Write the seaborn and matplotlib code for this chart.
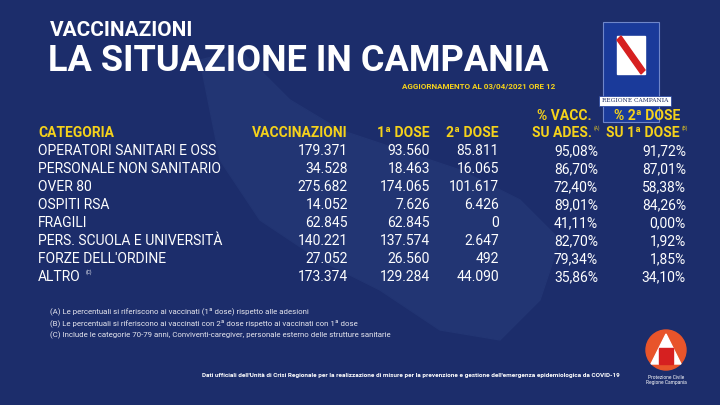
import numpy as np
import seaborn as sns
import matplotlib.pyplot as plt
from matplotlib.patches import Rectangle, Polygon, Circle

categories = ['OPERATORI SANITARI E OSS', 'PERSONALE NON SANITARIO', 'OVER 80', 'OSPITI RSA',
              'FRAGILI', 'PERS. SCUOLA E UNIVERSITÀ', "FORZE DELL'ORDINE", 'ALTRO']
vaccinazioni = ['179.371', '34.528', '275.682', '14.052', '62.845', '140.221', '27.052', '173.374']
prima_dose = ['93.560', '18.463', '174.065', '7.626', '62.845', '137.574', '26.560', '129.284']
seconda_dose = ['85.811', '16.065', '101.617', '6.426', '0', '2.647', '492', '44.090']
perc_ades = ['95,08%', '86,70%', '72,40%', '89,01%', '41,11%', '82,70%', '79,34%', '35,86%']
perc_seconda = ['91,72%', '87,01%', '58,38%', '84,26%', '0,00%', '1,92%', '1,85%', '34,10%']
note = ['(A) Le percentuali si riferiscono ai vaccinati (1ª dose) rispetto alle adesioni',
        '(B) Le percentuali si riferiscono ai vaccinati con 2ª dose rispetto ai vaccinati con 1ª dose',
        '(C) Include le categorie 70-79 anni, Conviventi-caregiver, personale esterno delle strutture sanitarie']

BG = '#1c2d6b'
YEL = '#f5d21b'
sns.set_style('white')
plt.rcParams['font.family'] = 'Roboto'

fig = plt.figure(figsize=(7.2, 4.05), dpi=100, facecolor=BG)
ax = fig.add_axes([0, 0, 1, 1])
ax.set_facecolor(BG)
ax.set_xlim(0, 720)
ax.set_ylim(405, 0)
ax.axis('off')

# faint region silhouette
ax.add_patch(Polygon([[200, 60], [240, 50], [290, 100], [340, 130], [400, 150], [460, 170],
                      [520, 200], [560, 240], [540, 300], [500, 340], [440, 330], [380, 290],
                      [320, 260], [260, 220], [220, 160]], closed=True, color='#223573', zorder=0))

ax.text(50, 30, 'VACCINAZIONI', color='white', fontsize=15, fontweight='bold', va='center')
ax.text(48, 61, 'LA SITUAZIONE IN CAMPANIA', color='white', fontsize=26, fontweight='bold', va='center')
ax.text(555, 86, 'AGGIORNAMENTO AL 03/04/2021 ORE 12', color=YEL, fontsize=5.8,
        fontweight='bold', ha='right', va='center')

# logo
ax.add_patch(Rectangle((603, 22), 56, 100, facecolor='#1a3a9a', edgecolor='#6f86c9', lw=0.8, zorder=1))
ax.add_patch(Rectangle((617, 36), 28, 38, color='white', zorder=2))
ax.add_patch(Polygon([[617, 40], [621, 36], [645, 70], [641, 74]], color='#d62020', zorder=3))
ax.add_patch(Rectangle((599, 96), 72, 10, facecolor='white', edgecolor='#1a3a9a', lw=0.5, zorder=3))
ax.text(635, 101, 'REGIONE CAMPANIA', color='#1a2a60', fontsize=4.2, ha='center', va='center',
        family='DejaVu Serif', zorder=4)

cols_x = [348, 430, 499, 598, 686]
hy = 133
ax.text(38, hy, 'CATEGORIA', color=YEL, fontsize=10, fontweight='bold', va='center')
for x, h in zip(cols_x[:3], ['VACCINAZIONI', '1ª DOSE', '2ª DOSE']):
    ax.text(x, hy, h, color=YEL, fontsize=10, fontweight='bold', va='center', ha='right')
ax.text(592, 116, '% VACC.', color=YEL, fontsize=10, fontweight='bold', va='center', ha='right')
ax.text(592, hy, 'SU ADES.', color=YEL, fontsize=10, fontweight='bold', va='center', ha='right')
ax.text(594, hy - 5, '(A)', color=YEL, fontsize=3.5, va='center')
ax.text(680, 116, '% 2ª DOSE', color=YEL, fontsize=10, fontweight='bold', va='center', ha='right')
ax.text(680, hy, 'SU 1ª DOSE', color=YEL, fontsize=10, fontweight='bold', va='center', ha='right')
ax.text(682, hy - 5, '(B)', color=YEL, fontsize=3.5, va='center')

rows_y = 151 + 18 * np.arange(len(categories))
for i, y in enumerate(rows_y):
    ax.text(38, y, categories[i], color='white', fontsize=10, va='center')
    vals = [vaccinazioni[i], prima_dose[i], seconda_dose[i], perc_ades[i], perc_seconda[i]]
    for x, v in zip(cols_x, vals):
        ax.text(x, y, v, color='white', fontsize=10, va='center', ha='right')
ax.text(86, rows_y[-1] - 5, '(C)', color='white', fontsize=3.5, va='center')

for j, n in enumerate(note):
    ax.text(50, 311 + 12 * j, n, color='#e8e8f0', fontsize=5.7, va='center')
ax.text(620, 376, "Dati ufficiali dell'Unità di Crisi Regionale per la realizzazione di misure per la prevenzione e gestione dell'emergenza epidemiologica da COVID-19",
        color='white', fontsize=4.6, fontweight='bold', ha='right', va='center')

# protezione civile logo
ax.add_patch(Circle((666, 350), 20, color='#e8542a', zorder=2))
ax.add_patch(Polygon([[651, 364], [666, 334], [681, 364]], color='white', zorder=3))
ax.add_patch(Rectangle((659, 348), 14, 16, color='#d62020', zorder=4))
ax.text(666, 380, 'Protezione Civile\nRegione Campania', color='white', fontsize=3.5,
        ha='center', va='center', linespacing=1)

fig.savefig('out.png', dpi=100, facecolor=BG)
